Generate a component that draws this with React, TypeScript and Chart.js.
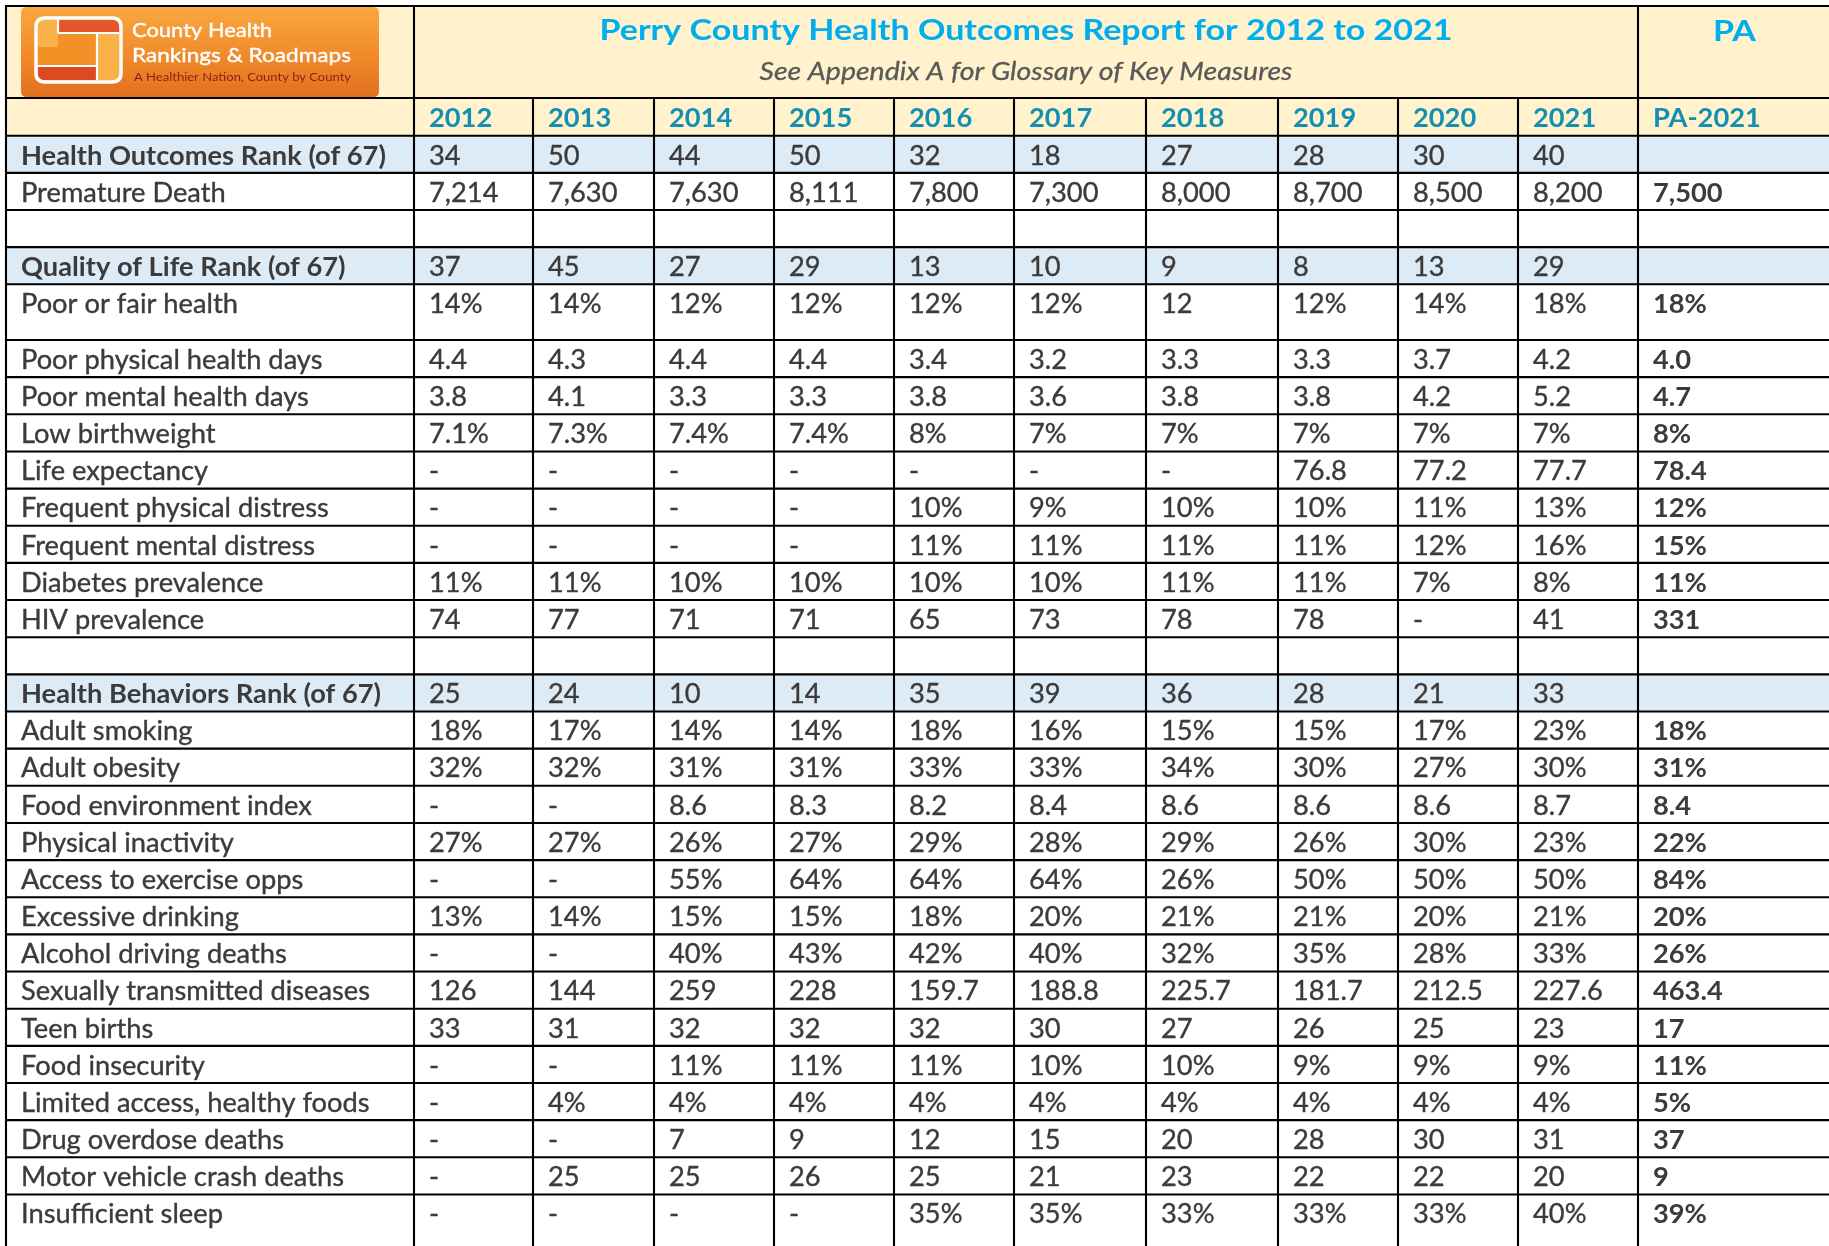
import React, { useEffect, useRef } from 'react';
import { Chart, registerables } from 'chart.js';

Chart.register(...registerables);

// ---------------- DATA ----------------
const reportTitle = 'Perry County Health Outcomes Report for 2012 to 2021';
const reportSubtitle = 'See Appendix A for Glossary of Key Measures';
const stateHeader = 'PA';
const stateColumn = 'PA-2021';
const years = ['2012', '2013', '2014', '2015', '2016', '2017', '2018', '2019', '2020', '2021'];

const logoLine1 = 'County Health';
const logoLine2 = 'Rankings & Roadmaps';
const logoTagline = 'A Healthier Nation, County by County';

const outcomesLabels = ['Health Outcomes Rank (of 67)', 'Premature Death'];
const outcomesValues = [
  ['34', '50', '44', '50', '32', '18', '27', '28', '30', '40'],
  ['7,214', '7,630', '7,630', '8,111', '7,800', '7,300', '8,000', '8,700', '8,500', '8,200'],
];
const outcomesPA = ['', '7,500'];

const qualityLabels = [
  'Quality of Life Rank (of 67)',
  'Poor or fair health',
  'Poor physical health days',
  'Poor mental health days',
  'Low birthweight',
  'Life expectancy',
  'Frequent physical distress',
  'Frequent mental distress',
  'Diabetes prevalence',
  'HIV prevalence',
];
const qualityValues = [
  ['37', '45', '27', '29', '13', '10', '9', '8', '13', '29'],
  ['14%', '14%', '12%', '12%', '12%', '12%', '12', '12%', '14%', '18%'],
  ['4.4', '4.3', '4.4', '4.4', '3.4', '3.2', '3.3', '3.3', '3.7', '4.2'],
  ['3.8', '4.1', '3.3', '3.3', '3.8', '3.6', '3.8', '3.8', '4.2', '5.2'],
  ['7.1%', '7.3%', '7.4%', '7.4%', '8%', '7%', '7%', '7%', '7%', '7%'],
  ['-', '-', '-', '-', '-', '-', '-', '76.8', '77.2', '77.7'],
  ['-', '-', '-', '-', '10%', '9%', '10%', '10%', '11%', '13%'],
  ['-', '-', '-', '-', '11%', '11%', '11%', '11%', '12%', '16%'],
  ['11%', '11%', '10%', '10%', '10%', '10%', '11%', '11%', '7%', '8%'],
  ['74', '77', '71', '71', '65', '73', '78', '78', '-', '41'],
];
const qualityPA = ['', '18%', '4.0', '4.7', '8%', '78.4', '12%', '15%', '11%', '331'];

const behaviorLabels = [
  'Health Behaviors Rank (of 67)',
  'Adult smoking',
  'Adult obesity',
  'Food environment index',
  'Physical inactivity',
  'Access to exercise opps',
  'Excessive drinking',
  'Alcohol driving deaths',
  'Sexually transmitted diseases',
  'Teen births',
  'Food insecurity',
  'Limited access, healthy foods',
  'Drug overdose deaths',
  'Motor vehicle crash deaths',
  'Insufficient sleep',
];
const behaviorValues = [
  ['25', '24', '10', '14', '35', '39', '36', '28', '21', '33'],
  ['18%', '17%', '14%', '14%', '18%', '16%', '15%', '15%', '17%', '23%'],
  ['32%', '32%', '31%', '31%', '33%', '33%', '34%', '30%', '27%', '30%'],
  ['-', '-', '8.6', '8.3', '8.2', '8.4', '8.6', '8.6', '8.6', '8.7'],
  ['27%', '27%', '26%', '27%', '29%', '28%', '29%', '26%', '30%', '23%'],
  ['-', '-', '55%', '64%', '64%', '64%', '26%', '50%', '50%', '50%'],
  ['13%', '14%', '15%', '15%', '18%', '20%', '21%', '21%', '20%', '21%'],
  ['-', '-', '40%', '43%', '42%', '40%', '32%', '35%', '28%', '33%'],
  ['126', '144', '259', '228', '159.7', '188.8', '225.7', '181.7', '212.5', '227.6'],
  ['33', '31', '32', '32', '32', '30', '27', '26', '25', '23'],
  ['-', '-', '11%', '11%', '11%', '10%', '10%', '9%', '9%', '9%'],
  ['-', '4%', '4%', '4%', '4%', '4%', '4%', '4%', '4%', '4%'],
  ['-', '-', '7', '9', '12', '15', '20', '28', '30', '31'],
  ['-', '25', '25', '26', '25', '21', '23', '22', '22', '20'],
  ['-', '-', '-', '-', '35%', '35%', '33%', '33%', '33%', '40%'],
];
const behaviorPA = ['', '18%', '31%', '8.4', '22%', '84%', '20%', '26%', '463.4', '17', '11%', '5%', '37', '9', '39%'];

// ---------------- LAYOUT / STYLE ----------------
const W = 1829;
const H = 1246;
const COL_EDGES = [6, 414, 533, 654, 774, 894, 1014, 1146, 1278, 1398, 1518, 1638, 1831];
const TABLE_TOP = 6;
const HEADER_BOTTOM = 98;
const YEAR_BOTTOM = 135.7;
const ROW_H = 37.15;
const TALL_ROW_H = 55.7;
const TALL_ROWS = ['Poor or fair health', 'Insufficient sleep'];
const PAD = 15;
const BASE_OFF = 28.8;

const FONT = "Lato, 'Open Sans', 'DejaVu Sans', sans-serif";
const TEXT = '#3B3B3B';
const TITLE_BLUE = '#00AEEF';
const YEAR_TEAL = '#1190B4';
const HEADER_BG = '#FFF2CC';
const RANK_BG = '#DDEBF7';

type Row = { label: string; values: string[]; pa: string; kind: 'rank' | 'measure' | 'blank' };

function buildRows(): Row[] {
  const rows: Row[] = [];
  const add = (labels: string[], values: string[][], pa: string[]) => {
    labels.forEach((l, i) =>
      rows.push({ label: l, values: values[i], pa: pa[i], kind: i === 0 ? 'rank' : 'measure' })
    );
  };
  const blank = () => rows.push({ label: '', values: years.map(() => ''), pa: '', kind: 'blank' });
  add(outcomesLabels, outcomesValues, outcomesPA);
  blank();
  add(qualityLabels, qualityValues, qualityPA);
  blank();
  add(behaviorLabels, behaviorValues, behaviorPA);
  return rows;
}

function drawText(
  ctx: CanvasRenderingContext2D,
  text: string,
  x: number,
  y: number,
  font: string,
  color: string,
  sx: number,
  align: 'left' | 'center' = 'left',
  thicken = 0
) {
  if (!text) return;
  ctx.save();
  ctx.font = font;
  ctx.fillStyle = color;
  ctx.textAlign = 'left';
  ctx.textBaseline = 'alphabetic';
  const w = ctx.measureText(text).width * sx;
  const x0 = align === 'center' ? x - w / 2 : x;
  ctx.translate(x0, y);
  ctx.scale(sx, 1);
  ctx.fillText(text, 0, 0);
  if (thicken > 0) {
    ctx.strokeStyle = color;
    ctx.lineWidth = thicken;
    ctx.lineJoin = 'round';
    ctx.strokeText(text, 0, 0);
  }
  ctx.restore();
}

function fit(ctx: CanvasRenderingContext2D, font: string, text: string, target: number) {
  ctx.save();
  ctx.font = font;
  const w = ctx.measureText(text).width;
  ctx.restore();
  return w > 0 ? target / w : 1;
}

function roundRect(ctx: CanvasRenderingContext2D, x: number, y: number, w: number, h: number, r: number) {
  ctx.beginPath();
  ctx.moveTo(x + r, y);
  ctx.lineTo(x + w - r, y);
  ctx.quadraticCurveTo(x + w, y, x + w, y + r);
  ctx.lineTo(x + w, y + h - r);
  ctx.quadraticCurveTo(x + w, y + h, x + w - r, y + h);
  ctx.lineTo(x + r, y + h);
  ctx.quadraticCurveTo(x, y + h, x, y + h - r);
  ctx.lineTo(x, y + r);
  ctx.quadraticCurveTo(x, y, x + r, y);
  ctx.closePath();
}

const tablePlugin = {
  id: 'healthTable',
  afterDraw(chart: any) {
    const ctx: CanvasRenderingContext2D = chart.ctx;
    const xs = chart.scales.x;
    const ys = chart.scales.y;
    const px = (v: number) => xs.getPixelForValue(v);
    const py = (v: number) => ys.getPixelForValue(v);
    const rows = buildRows();

    // row edges
    const edges: number[] = [YEAR_BOTTOM];
    rows.forEach((r) => {
      const h = TALL_ROWS.includes(r.label) ? TALL_ROW_H : ROW_H;
      edges.push(edges[edges.length - 1] + h);
    });

    const left = px(COL_EDGES[0]);
    const right = px(COL_EDGES[COL_EDGES.length - 1]);

    ctx.save();
    ctx.fillStyle = '#ffffff';
    ctx.fillRect(0, 0, chart.width, chart.height);

    // header backgrounds
    ctx.fillStyle = HEADER_BG;
    ctx.fillRect(left, py(TABLE_TOP), right - left, py(YEAR_BOTTOM) - py(TABLE_TOP));

    // rank rows backgrounds
    rows.forEach((r, i) => {
      if (r.kind === 'rank') {
        ctx.fillStyle = RANK_BG;
        ctx.fillRect(left, py(edges[i]), right - left, py(edges[i + 1]) - py(edges[i]));
      }
    });

    // ---- logo ----
    const lx = px(21), ly = py(7), lw = px(379) - px(21), lh = py(97) - py(7);
    const grad = ctx.createLinearGradient(0, ly, 0, ly + lh);
    grad.addColorStop(0, '#F9A840');
    grad.addColorStop(0.55, '#F08A2A');
    grad.addColorStop(1, '#E2701E');
    ctx.fillStyle = grad;
    roundRect(ctx, lx, ly, lw, lh, 6);
    ctx.fill();

    // icon
    const ix = px(36), iy = py(18), iw = px(121) - px(36), ih = py(82) - py(18);
    ctx.fillStyle = '#F39127';
    roundRect(ctx, ix, iy, iw, ih, 9);
    ctx.fill();
    ctx.fillStyle = '#F9B24A';
    ctx.fillRect(px(38), py(20), px(58) - px(38), py(47) - py(20));
    ctx.fillRect(px(97), py(33), px(119) - px(97), py(80) - py(33));
    ctx.fillStyle = '#E65628';
    ctx.fillRect(px(58), py(20), px(119) - px(58), py(33) - py(20));
    ctx.fillStyle = '#DC4A22';
    ctx.fillRect(px(38), py(66), px(97) - px(38), py(80) - py(66));
    ctx.strokeStyle = '#ffffff';
    ctx.lineWidth = 2.2;
    ctx.beginPath();
    ctx.moveTo(px(58), py(20)); ctx.lineTo(px(58), py(33));
    ctx.moveTo(px(58), py(33)); ctx.lineTo(px(119), py(33));
    ctx.moveTo(px(97), py(33)); ctx.lineTo(px(97), py(80));
    ctx.moveTo(px(37), py(66)); ctx.lineTo(px(97), py(66));
    ctx.stroke();
    ctx.lineWidth = 3.5;
    roundRect(ctx, ix, iy, iw, ih, 9);
    ctx.stroke();

    const logoFont = `20px ${FONT}`;
    const sLogo1 = fit(ctx, logoFont, logoLine1, 140);
    drawText(ctx, logoLine1, px(132), py(37.3), logoFont, '#FFFFFF', sLogo1, 'left', 0.4);
    const sLogo2 = fit(ctx, logoFont, logoLine2, 219);
    drawText(ctx, logoLine2, px(132), py(61.7), logoFont, '#FFFFFF', sLogo2, 'left', 0.4);
    const tagFont = `11px ${FONT}`;
    const sTag = fit(ctx, tagFont, logoTagline, 217);
    drawText(ctx, logoTagline, px(134), py(80.7), tagFont, '#8E1C1C', sTag);

    // ---- titles ----
    const titleFont = `bold 28px ${FONT}`;
    const sTitle = fit(ctx, titleFont, reportTitle, 853);
    const titleCx = (px(COL_EDGES[1]) + px(COL_EDGES[11])) / 2;
    drawText(ctx, reportTitle, titleCx, py(40), titleFont, TITLE_BLUE, sTitle, 'center');
    const subFont = `italic 25px ${FONT}`;
    const sSub = fit(ctx, subFont, reportSubtitle, 533);
    drawText(ctx, reportSubtitle, titleCx, py(80), subFont, '#595959', sSub, 'center', 0.3);
    drawText(ctx, stateHeader, px(1734.5), py(41), titleFont, TITLE_BLUE, sTitle, 'center');

    // ---- table text ----
    const regFont = `26px ${FONT}`;
    const boldFont = `bold 26px ${FONT}`;
    const sReg = fit(ctx, regFont, 'Sexually transmitted diseases', 349);
    const sBold = fit(ctx, boldFont, 'Health Behaviors Rank (of 67)', 360);

    years.forEach((y, j) => {
      drawText(ctx, y, px(COL_EDGES[j + 1] + PAD), py(HEADER_BOTTOM + BASE_OFF), boldFont, YEAR_TEAL, sBold);
    });
    drawText(ctx, stateColumn, px(COL_EDGES[11] + PAD), py(HEADER_BOTTOM + BASE_OFF), boldFont, YEAR_TEAL, sBold);

    rows.forEach((r, i) => {
      const base = py(edges[i] + BASE_OFF);
      const isRank = r.kind === 'rank';
      drawText(ctx, r.label, px(COL_EDGES[0] + PAD), base, isRank ? boldFont : regFont, TEXT, isRank ? sBold : sReg, 'left', isRank ? 0 : 0.35);
      r.values.forEach((v, j) => {
        drawText(ctx, v, px(COL_EDGES[j + 1] + PAD), base, regFont, TEXT, sReg, 'left', 0.35);
      });
      drawText(ctx, r.pa, px(COL_EDGES[11] + PAD), base, boldFont, TEXT, sBold);
    });

    // ---- grid lines ----
    ctx.strokeStyle = '#000000';
    ctx.lineWidth = 2.1;
    ctx.beginPath();
    const hLine = (y: number) => {
      ctx.moveTo(left - 1.05, py(y));
      ctx.lineTo(right, py(y));
    };
    hLine(TABLE_TOP);
    hLine(HEADER_BOTTOM);
    edges.forEach((e) => hLine(e));
    const bottom = py(H + 10);
    [COL_EDGES[0], COL_EDGES[1], COL_EDGES[11]].forEach((c) => {
      ctx.moveTo(px(c), py(TABLE_TOP));
      ctx.lineTo(px(c), bottom);
    });
    for (let j = 2; j <= 10; j++) {
      ctx.moveTo(px(COL_EDGES[j]), py(HEADER_BOTTOM));
      ctx.lineTo(px(COL_EDGES[j]), bottom);
    }
    ctx.stroke();
    ctx.restore();
  },
};

export default function App() {
  const canvasRef = useRef<HTMLCanvasElement | null>(null);

  useEffect(() => {
    document.body.style.margin = '0';
    const canvas = canvasRef.current;
    if (!canvas) return;
    const chart = new Chart(canvas, {
      type: 'scatter',
      data: { datasets: [{ data: [] }] },
      options: {
        responsive: false,
        animation: false,
        devicePixelRatio: 1,
        layout: { padding: 0 },
        events: [],
        plugins: { legend: { display: false }, tooltip: { enabled: false }, title: { display: false } },
        scales: {
          x: { type: 'linear', min: 0, max: W, display: false },
          y: { type: 'linear', min: 0, max: H, reverse: true, display: false },
        },
      },
      plugins: [tablePlugin],
    });
    return () => chart.destroy();
  }, []);

  return (
    <div style={{ width: W, height: H, overflow: 'hidden' }}>
      <canvas ref={canvasRef} width={W} height={H} style={{ display: 'block', width: W, height: H }} />
    </div>
  );
}
